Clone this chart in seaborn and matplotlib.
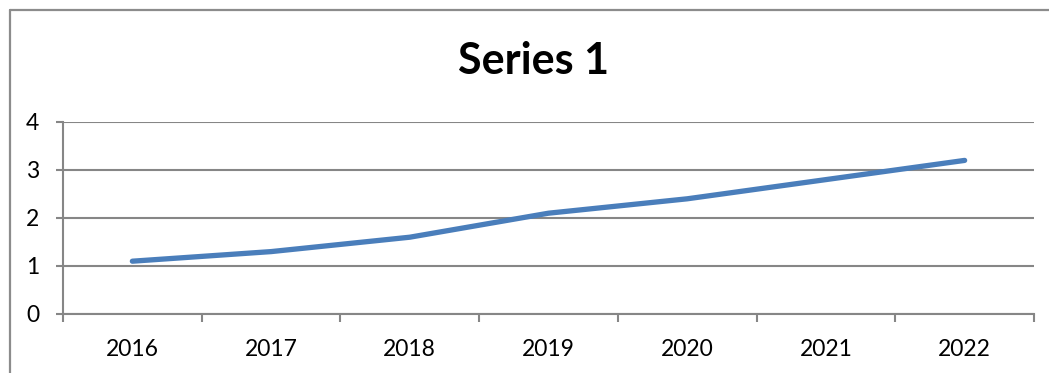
import matplotlib
matplotlib.use("Agg")
import matplotlib.pyplot as plt
from matplotlib.lines import Line2D
from matplotlib.ticker import FixedLocator, NullFormatter
import seaborn as sns
import pandas as pd

years = ["2016", "2017", "2018", "2019", "2020", "2021", "2022"]
series_1 = [1.1, 1.3, 1.6, 2.1, 2.4, 2.8, 3.2]
y_ticks = [0, 1, 2, 3, 4]

sns.set_theme(style="white")
plt.rcParams["font.family"] = ["Lato", "DejaVu Sans"]

W, H = 1049, 373
fig = plt.figure(figsize=(W / 100, H / 100), dpi=100)
ax = fig.add_axes([63 / W, (H - 314) / H, (1034 - 63) / W, (314 - 122) / H])

df = pd.DataFrame({"year": years, "value": series_1})
sns.lineplot(data=df, x="year", y="value", ax=ax, color="#4A7EBB",
             linewidth=3.8, solid_capstyle="round", sort=False)

grid_c = "#868686"
ax.set_xlim(-0.5, len(years) - 0.5)
ax.set_ylim(0, 4)
ax.set_yticks(y_ticks)
ax.set_yticklabels([str(t) for t in y_ticks])
ax.yaxis.grid(True, color=grid_c, linewidth=1.5)
ax.xaxis.grid(False)
ax.set_xlabel("")
ax.set_ylabel("")

# category labels centred, tick marks on category boundaries
ax.set_xticks(range(len(years)))
ax.set_xticklabels(years)
ax.xaxis.set_minor_locator(FixedLocator([i - 0.5 for i in range(len(years) + 1)]))
ax.xaxis.set_minor_formatter(NullFormatter())
ax.tick_params(axis="x", which="major", length=0, pad=18, labelsize=16.5, labelcolor="black")
ax.tick_params(axis="x", which="minor", length=6, width=1.5, color=grid_c, direction="out", bottom=True)
ax.tick_params(axis="y", which="major", length=5, width=1.5, color=grid_c, direction="out",
               left=True, pad=12, labelsize=16.5, labelcolor="black")

for s in ["top", "right"]:
    ax.spines[s].set_visible(False)
for s in ["left", "bottom"]:
    ax.spines[s].set_visible(True)
    ax.spines[s].set_color(grid_c)
    ax.spines[s].set_linewidth(1.5)

fig.text(534 / W, 1 - 61 / H, "Series 1", ha="center", va="center",
         fontsize=31, fontweight="bold", color="black")

# chart area border (top and left edges)
fig.add_artist(Line2D([9.5 / W, 9.5 / W], [0, 1 - 10 / H], transform=fig.transFigure,
                      color="#8c8c8c", linewidth=1.6))
fig.add_artist(Line2D([9.5 / W, 1], [1 - 10 / H, 1 - 10 / H], transform=fig.transFigure,
                      color="#8c8c8c", linewidth=1.6))

fig.savefig("out.png", dpi=100)
